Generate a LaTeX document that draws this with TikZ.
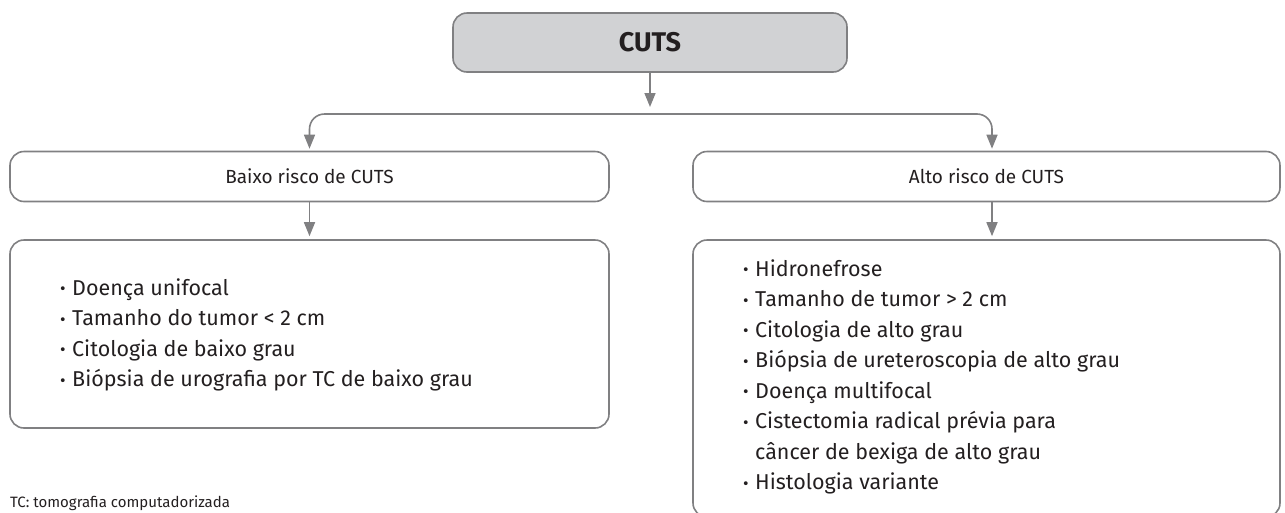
\documentclass[tikz,border=0pt]{standalone}
\usepackage{fontspec}
\setmainfont{Fira Sans}
\usetikzlibrary{arrows.meta}
\definecolor{linegray}{HTML}{808082}
\definecolor{boxfill}{HTML}{D1D2D4}
\definecolor{ink}{HTML}{231F20}
% small bullet used in the lists
\newcommand\itm{\makebox[12pt][l]{\raisebox{0.5pt}{\fontsize{17}{17}\selectfont •}}}
\begin{document}
\begin{tikzpicture}[x=1pt,y=-1pt,
  box/.style={draw=linegray, line width=1.6pt, rounded corners=14pt,
    text=ink, inner sep=0pt, font=\fontsize{19}{23}\selectfont},
  % base anchor of a multi-line text sits on its last line
  listtext/.style={anchor=base west, align=left, inner sep=0pt, text=ink,
    font=\fontsize{21.5}{30.5}\selectfont},
  arr/.style={draw=linegray, line width=1.6pt,
    -{Triangle[length=14pt,width=11pt]}},
  branch/.style={arr, rounded corners=15pt}]
\useasboundingbox (0,0) rectangle (1285,512);
\clip (0,0) rectangle (1285,512);

% top node
\node[box, fill=boxfill, minimum width=394pt, minimum height=59pt,
  font=\fontsize{27}{32}\selectfont\bfseries] (cuts) at (650,42.5) {CUTS};

% risk groups
\node[box, minimum width=599pt, minimum height=50pt] (low) at (309.5,176.5)
  {Baixo risco de CUTS};
\node[box, minimum width=587pt, minimum height=50pt] (high) at (986.5,176.5)
  {Alto risco de CUTS};

% criteria boxes
\node[box, minimum width=599pt, minimum height=188pt] (lowlist) at (309.5,334) {};
\node[box, minimum width=587pt, minimum height=277pt] (highlist) at (986.5,378.5) {};

% criteria texts
\node[listtext] (lowitems) at (60,386.5) {%
  \itm Doença unifocal\\
  \itm Tamanho do tumor < 2 cm\\
  \itm Citologia de baixo grau\\
  \itm Biópsia de urografia por TC de baixo grau};
\node[listtext] (highitems) at (743,489.5) {%
  \itm Hidronefrose\\
  \itm Tamanho de tumor > 2 cm\\
  \itm Citologia de alto grau\\
  \itm Biópsia de ureteroscopia de alto grau\\
  \itm Doença multifocal\\
  \itm Cistectomia radical prévia para\\
  \hspace*{12pt}câncer de bexiga de alto grau\\
  \itm Histologia variante};

% footnote
\node[anchor=base west, inner sep=0pt, text=ink,
  font=\fontsize{15}{18}\selectfont] (note) at (10,507)
  {TC: tomografia computadorizada};

% connectors
\coordinate (hubtip) at (650,107);
\coordinate (hub) at (650,114);
\draw[arr] (cuts) -- (hubtip);
\draw[branch] (hub) -| ([yshift=2pt]low.north);
\draw[branch] (hub) -| ([xshift=5.5pt,yshift=2pt]high.north);
\draw[arr] (low) -- ([yshift=3pt]lowlist.north);
\draw[arr] ([xshift=5.5pt]high.south) -- ([xshift=5.5pt,yshift=3pt]highlist.north);
\end{tikzpicture}
\end{document}
